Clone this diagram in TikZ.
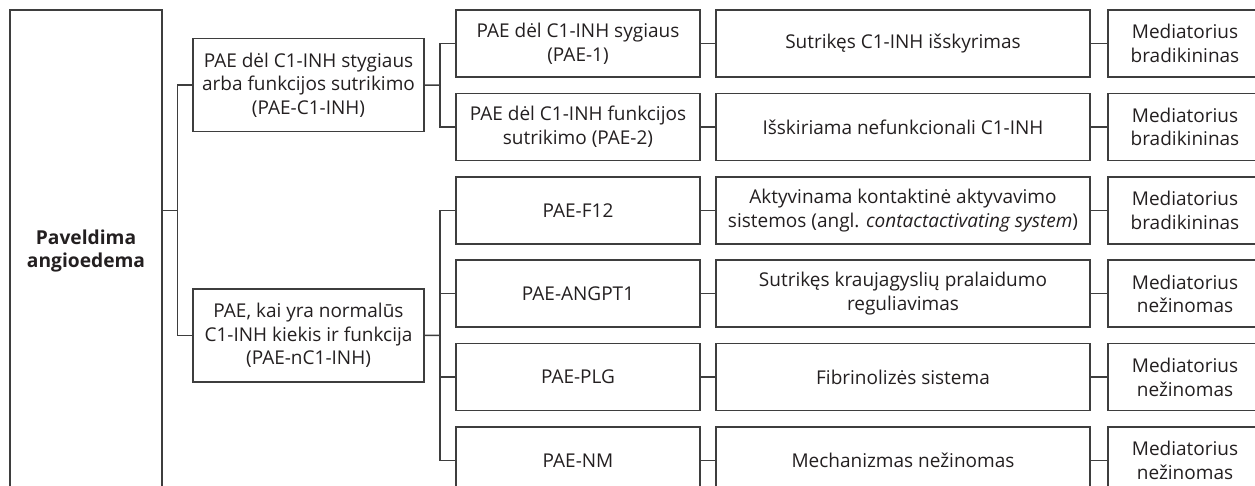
\documentclass[tikz,border=0pt]{standalone}
\usepackage{fontspec}
\setmainfont{Open Sans}
\usepackage{tikz}
\usetikzlibrary{positioning,calc}
\definecolor{linegray}{RGB}{62,62,62}
\definecolor{txtblack}{RGB}{35,31,32}

\begin{document}
\begin{tikzpicture}[
  x=0.5pt, y=-0.5pt,
  node distance=8.2pt and 8pt,
  every node/.style={font=\fontsize{9.5}{11.8}\selectfont, text=txtblack},
  link/.style={draw=linegray, line width=0.75pt},
  rootbox/.style={link, minimum width=76pt, minimum height=241pt, align=center, outer sep=0pt, font=\fontsize{9.6}{11.5}\selectfont\bfseries},
  groupbox/.style={link, minimum width=115.5pt, minimum height=46.5pt, align=center, outer sep=0pt, inner sep=2pt},
  typebox/.style={link, minimum width=122pt, minimum height=33.5pt, align=center, outer sep=0pt, inner sep=2pt},
  mechbox/.style={link, minimum width=187pt, minimum height=33.5pt, align=center, outer sep=0pt, inner sep=2pt},
  medbox/.style={link, minimum width=77pt, minimum height=33.5pt, align=center, outer sep=0pt, inner sep=2pt}
]
\clip (0,0) rectangle (1255,486);

% left column
\node[rootbox] (hae) at (86,251) {Paveldima\\angioedema};
\node[groupbox] (hc1) at (308.5,85.2) {PAE dėl C1-INH stygiaus\\arba funkcijos sutrikimo\\(PAE-C1-INH)};
\node[groupbox] (hnc) at (308.5,335.4) {PAE, kai yra normalūs\\C1-INH kiekis ir funkcija\\(PAE-nC1-INH)};

% types
\node[typebox] (pae1) at (578,43.5) {PAE dėl C1-INH sygiaus\\(PAE-1)};
\node[typebox, below=of pae1] (pae2) {PAE dėl C1-INH funkcijos\\sutrikimo (PAE-2)};
\node[typebox, below=of pae2] (f12) {PAE-F12};
\node[typebox, below=of f12] (angpt) {PAE-ANGPT1};
\node[typebox, below=of angpt] (plg) {PAE-PLG};
\node[typebox, below=of plg] (nm) {PAE-NM};

% mechanisms
\node[mechbox, right=of pae1] (mech1) {Sutrikęs C1-INH išskyrimas};
\node[mechbox, right=of pae2] (mech2) {Išskiriama nefunkcionali C1-INH};
\node[mechbox, right=of f12] (mech3) {Aktyvinama kontaktinė aktyvavimo\\sistemos (angl. \textit{contactactivating system})};
\node[mechbox, right=of angpt] (mech4) {Sutrikęs kraujagyslių pralaidumo\\reguliavimas};
\node[mechbox, right=of plg] (mech5) {Fibrinolizės sistema};
\node[mechbox, right=of nm] (mech6) {Mechanizmas nežinomas};

% mediators
\node[medbox, right=9pt of mech1] (med1) {Mediatorius\\bradikininas};
\node[medbox, right=9pt of mech2] (med2) {Mediatorius\\bradikininas};
\node[medbox, right=9pt of mech3] (med3) {Mediatorius\\bradikininas};
\node[medbox, right=9pt of mech4] (med4) {Mediatorius\\nežinomas};
\node[medbox, right=9pt of mech5] (med5) {Mediatorius\\nežinomas};
\node[medbox, right=9pt of mech6] (med6) {Mediatorius\\nežinomas};

% branch points
\coordinate (busL) at ($(hae.east |- hc1.west)!0.5!(hnc.west)$);
\coordinate (busA) at ($(hc1.east)!0.5!(hc1.east -| pae1.west)$);
\coordinate (busB) at ($(hnc.east)!0.5!(hnc.east -| f12.west)$);

\draw[link] (hae.east |- busL) -- (busL);
\draw[link] (hc1.west) -| (busL) |- (hnc.west);
\draw[link] (hc1.east) -- (busA);
\draw[link] (pae1.west) -| (busA) |- (pae2.west);
\draw[link] (hnc.east) -- (busB);
\draw[link] (f12.west) -| (busB) |- (nm.west);
\draw[link] (busB |- angpt.west) -- (angpt.west);
\draw[link] (busB |- plg.west) -- (plg.west);

\draw[link] (pae1) -- (mech1);
\draw[link] (pae2) -- (mech2);
\draw[link] (f12) -- (mech3);
\draw[link] (angpt) -- (mech4);
\draw[link] (plg) -- (mech5);
\draw[link] (nm) -- (mech6);
\draw[link] (mech1) -- (med1);
\draw[link] (mech2) -- (med2);
\draw[link] (mech3) -- (med3);
\draw[link] (mech4) -- (med4);
\draw[link] (mech5) -- (med5);
\draw[link] (mech6) -- (med6);
\end{tikzpicture}
\end{document}
